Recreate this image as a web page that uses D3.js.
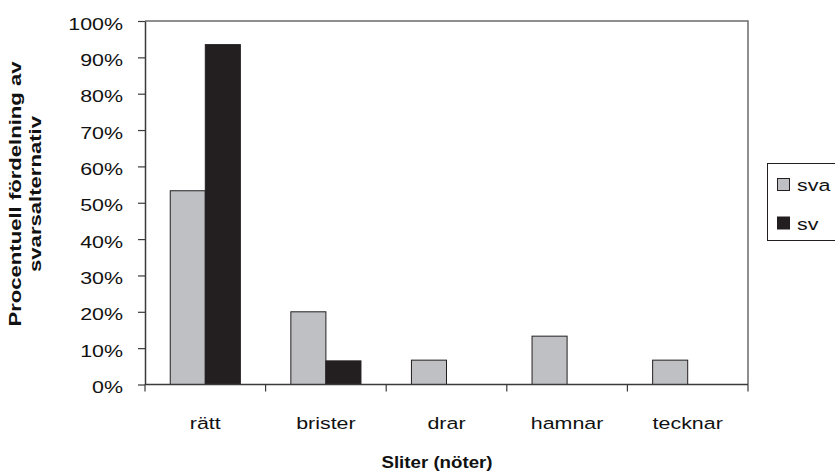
<!DOCTYPE html>
<html><head><meta charset="utf-8">
<script src="https://cdn.jsdelivr.net/npm/d3@7"></script>
<style>body{margin:0;background:#fff}svg{display:block}text{font-family:"Liberation Sans",Arial,sans-serif}</style>
</head><body>
<script>
const categories = ["rätt","brister","drar","hamnar","tecknar"];
const seriesNames = ["sva","sv"];
const svaValues = [53.3,20,6.7,13.3,6.7];
const svValues = [93.5,6.5,0,0,0];
const yTicks = [0,10,20,30,40,50,60,70,80,90,100];
const colors = {sva:"#bfc0c4", sv:"#231f20"};

const W=835,H=471;
const FS="17px", SX=1.26;
const m={left:145,right:748,top:21,bottom:384.5};
const svg=d3.select("body").append("svg").attr("width",W).attr("height",H);

const x=d3.scaleBand().domain(categories).range([m.left,m.right]).paddingInner(0).paddingOuter(0);
const inner=d3.scaleBand().domain(seriesNames).range([0,x.bandwidth()]).paddingInner(0).paddingOuter(0.72);
const y=d3.scaleLinear().domain([0,100]).range([m.bottom,m.top]);

function stext(g,tx,ty,str,anchor,opts={}){
  return g.append("text").attr("transform",`translate(${tx},${ty}) scale(${opts.sx||SX},1)`)
    .attr("text-anchor",anchor).attr("font-size",opts.fs||FS).attr("font-weight",opts.fw||"normal")
    .attr("fill","#111").text(str);
}

// frame top/right
svg.append("path").attr("d",`M${m.left},${m.top}H${m.right}V${m.bottom}`).attr("fill","none").attr("stroke","#6b6b6b").attr("stroke-width",1.5);

const data=seriesNames.map(s=>({name:s,values:s==="sva"?svaValues:svValues}));
data.forEach(s=>{
  svg.append("g").selectAll("rect").data(categories.map((c,i)=>({c,v:s.values[i]})).filter(d=>d.v>0))
   .join("rect")
   .attr("x",d=>x(d.c)+inner(s.name))
   .attr("y",d=>y(d.v))
   .attr("width",inner.bandwidth())
   .attr("height",d=>y(0)-y(d.v))
   .attr("fill",colors[s.name])
   .attr("stroke","#231f20").attr("stroke-width",1);
});

// y axis
const yAxis=d3.axisLeft(y).tickValues(yTicks).tickFormat(d=>d+"%").tickSize(7).tickSizeOuter(0);
const gy=svg.append("g").attr("transform",`translate(${m.left},0)`).call(yAxis);
gy.select(".domain").attr("stroke","#3a3a3a").attr("stroke-width",1.5);
gy.selectAll(".tick line").attr("stroke","#3a3a3a").attr("stroke-width",1.2);
gy.selectAll(".tick text").attr("font-size",FS).attr("fill","#111").attr("x",0).attr("dy",null)
  .attr("transform",`translate(-22,8) scale(${SX},1)`);

// x axis
const gx=svg.append("g").attr("transform",`translate(0,${m.bottom})`);
gx.append("line").attr("x1",m.left).attr("x2",m.right).attr("stroke","#3a3a3a").attr("stroke-width",1.5);
const bounds=categories.map(c=>x(c)).concat([m.right]);
gx.selectAll("line.t").data(bounds).join("line").attr("class","t")
  .attr("x1",d=>d).attr("x2",d=>d).attr("y1",0).attr("y2",7).attr("stroke","#3a3a3a").attr("stroke-width",1.2);
categories.forEach(c=>stext(gx,x(c)+x.bandwidth()/2,44,c,"middle"));

// axis titles
stext(svg,437,468,"Sliter (nöter)","middle",{fw:"bold",sx:1.1});
const yt=svg.append("text").attr("transform",`translate(0,194) rotate(-90) scale(1.3,1)`)
  .attr("text-anchor","middle").attr("font-size",FS).attr("font-weight","bold").attr("fill","#111");
yt.append("tspan").attr("x",0).attr("y",21.5).text("Procentuell fördelning av");
yt.append("tspan").attr("x",0).attr("y",41.5).text("svarsalternativ");

// legend
const lg=svg.append("g");
lg.append("rect").attr("x",767.5).attr("y",163.5).attr("width",80).attr("height",77).attr("fill","#fff").attr("stroke","#231f20").attr("stroke-width",1);
seriesNames.forEach((s,i)=>{
  lg.append("rect").attr("x",777.5).attr("y",178.5+i*38.5).attr("width",12).attr("height",12)
    .attr("fill",colors[s]).attr("stroke","#231f20").attr("stroke-width",1);
  stext(lg,797,191+i*38.5,s,"start");
});
</script>
</body></html>
